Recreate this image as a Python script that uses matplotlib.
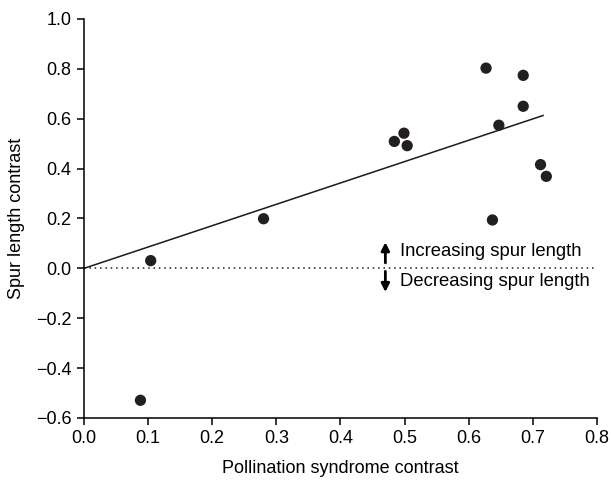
import matplotlib
matplotlib.use('Agg')
import matplotlib.pyplot as plt

# contrasts
pollination_contrast = [0.088, 0.104, 0.280, 0.484, 0.499, 0.504, 0.627,
                        0.637, 0.647, 0.685, 0.685, 0.712, 0.721]
spur_contrast = [-0.529, 0.031, 0.199, 0.509, 0.542, 0.492, 0.803,
                 0.194, 0.574, 0.774, 0.650, 0.416, 0.369]

# regression line through origin, as drawn
fit_x = [0.0, 0.716]
fit_y = [0.0, 0.613]

x_ticks = [0.0, 0.1, 0.2, 0.3, 0.4, 0.5, 0.6, 0.7, 0.8]
y_ticks = [-0.6, -0.4, -0.2, 0.0, 0.2, 0.4, 0.6, 0.8, 1.0]

plt.rcParams['font.family'] = ['Liberation Sans', 'DejaVu Sans']
plt.rcParams['font.size'] = 13

fig = plt.figure(figsize=(6.11, 4.83), dpi=100)
ax = fig.add_axes([0.1375, 0.1346, 0.8395, 0.8261])

ax.plot(fit_x, fit_y, color='#1a1a1a', lw=1.1)
ax.axhline(0, xmin=0, xmax=0.997, color='#1a1a1a', lw=1.1, ls=(0, (1, 2.5)))
ax.scatter(pollination_contrast, spur_contrast, s=66, color='#231f20', zorder=3,
           edgecolors='none')

# direction arrows and labels
arrow_style = dict(arrowstyle='-|>', color='black', lw=2.0,
                   mutation_scale=12, shrinkA=0, shrinkB=0)
ax.annotate('', xy=(0.47, 0.105), xytext=(0.47, 0.022), arrowprops=arrow_style)
ax.annotate('', xy=(0.47, -0.095), xytext=(0.47, -0.012), arrowprops=arrow_style)
ax.text(0.493, 0.067, 'Increasing spur length', va='center', ha='left', fontsize=13.3)
ax.text(0.493, -0.053, 'Decreasing spur length', va='center', ha='left', fontsize=13.3)

ax.set_xlim(0, 0.8)
ax.set_ylim(-0.6, 1.0)
ax.set_xticks(x_ticks)
ax.set_xticklabels([f'{t:.1f}' for t in x_ticks])
ax.set_yticks(y_ticks)
ax.set_yticklabels([f'{t:.1f}'.replace('-', '\u2212') for t in y_ticks])
ax.spines['top'].set_visible(False)
ax.spines['right'].set_visible(False)
for side in ['left', 'bottom']:
    ax.spines[side].set_linewidth(1.1)
ax.tick_params(direction='out', length=5, width=1.1, pad=4)

ax.set_xlabel('Pollination syndrome contrast', labelpad=9)
ax.set_ylabel('Spur length contrast', labelpad=8)

fig.savefig('out.png', dpi=100)
